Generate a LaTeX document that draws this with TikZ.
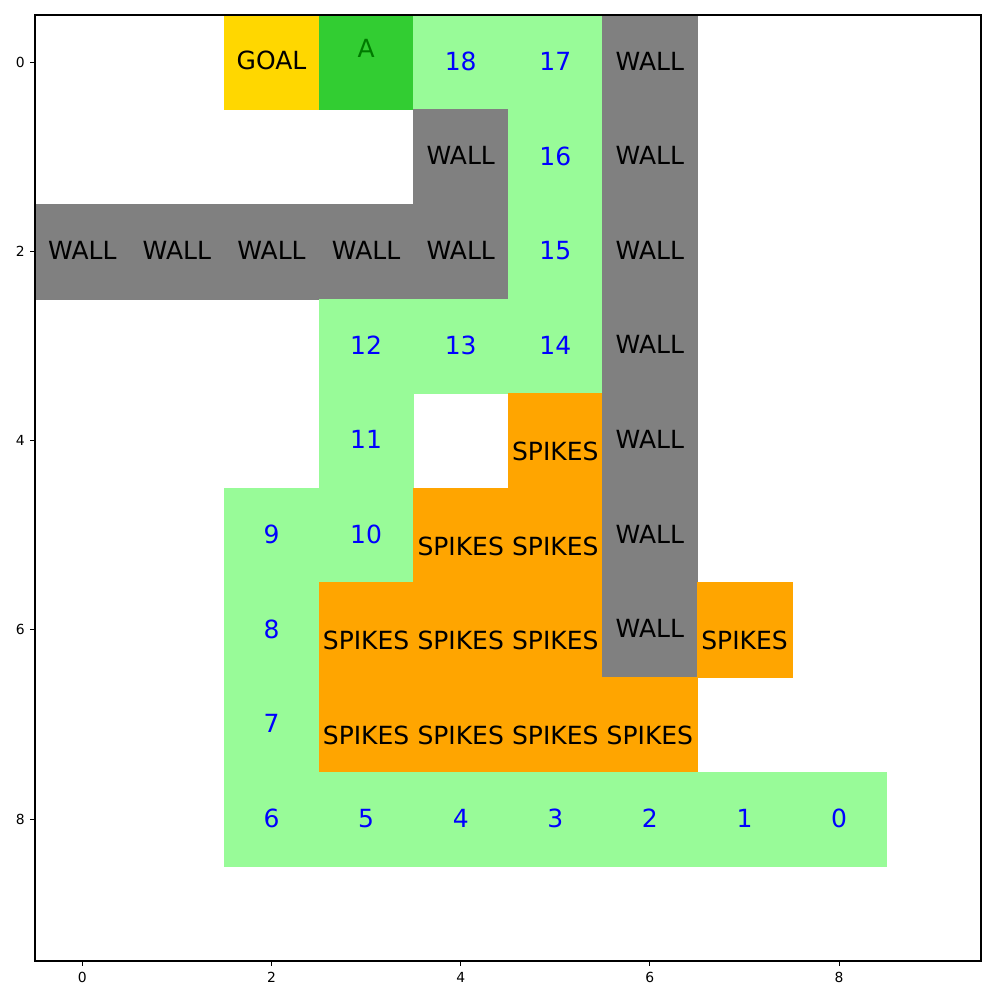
\documentclass[tikz,border=0pt]{standalone}
\usepackage{fontspec}
\setmainfont{DejaVu Sans}
\definecolor{goalc}{HTML}{FFD700}
\definecolor{agentc}{HTML}{32CD32}
\definecolor{pathc}{HTML}{98FB98}
\definecolor{wallc}{HTML}{808080}
\definecolor{spikec}{HTML}{FFA500}
\definecolor{numc}{HTML}{0000FF}
\definecolor{atext}{HTML}{007A00}
\tikzset{
  cell/.style={draw=#1, fill=#1, line width=0.3bp, minimum size=68.1bp, inner sep=0pt, outer sep=0pt},
  lbl/.style={anchor=base, inner sep=0pt, font=\fontsize{18bp}{20bp}\selectfont},
  ticklbl/.style={inner sep=0pt, font=\fontsize{10bp}{12bp}\selectfont},
  tick/.style={line width=0.8bp},
}
\begin{document}
\begin{tikzpicture}[x=0.72bp,y=-0.72bp]
\useasboundingbox (0,0) rectangle (1000,1000);
% cells
\foreach \c/\r/\col in {
  2/0/goalc, 3/0/agentc, 4/0/pathc, 5/0/pathc, 6/0/wallc,
  4/1/wallc, 5/1/pathc, 6/1/wallc,
  0/2/wallc, 1/2/wallc, 2/2/wallc, 3/2/wallc, 4/2/wallc, 5/2/pathc, 6/2/wallc,
  3/3/pathc, 4/3/pathc, 5/3/pathc, 6/3/wallc,
  3/4/pathc, 5/4/spikec, 6/4/wallc,
  2/5/pathc, 3/5/pathc, 4/5/spikec, 5/5/spikec, 6/5/wallc,
  2/6/pathc, 3/6/spikec, 4/6/spikec, 5/6/spikec, 6/6/wallc, 7/6/spikec,
  2/7/pathc, 3/7/spikec, 4/7/spikec, 5/7/spikec, 6/7/spikec,
  2/8/pathc, 3/8/pathc, 4/8/pathc, 5/8/pathc, 6/8/pathc, 7/8/pathc, 8/8/pathc}
  \node[cell=\col] (cell-\c-\r) at ({35+(\c+0.5)*94.6},{15+(\r+0.5)*94.6}) {};
% wall labels
\foreach \c/\r in {6/0, 4/1, 6/1, 0/2, 1/2, 2/2, 3/2, 4/2, 6/2, 6/3, 6/4, 6/5, 6/6}
  \node[lbl] (wall-\c-\r) at ({35+(\c+0.5)*94.6},{15+(\r+0.5)*94.6+7.7}) {WALL};
% spike labels
\foreach \c/\r in {5/4, 4/5, 5/5, 3/6, 4/6, 5/6, 7/6, 3/7, 4/7, 5/7, 6/7}
  \node[lbl] (spk-\c-\r) at ({35+(\c+0.5)*94.6},{15+(\r+0.5)*94.6+19.8}) {SPIKES};
% path numbers
\foreach \c/\r/\n in {8/8/0, 7/8/1, 6/8/2, 5/8/3, 4/8/4, 3/8/5, 2/8/6, 2/7/7, 2/6/8, 2/5/9,
  3/5/10, 3/4/11, 3/3/12, 4/3/13, 5/3/14, 5/2/15, 5/1/16, 5/0/17, 4/0/18}
  \node[lbl, text=numc] (num-\n) at ({35+(\c+0.5)*94.6},{15+(\r+0.5)*94.6+8.2}) {\n};
\node[lbl] (goal) at ({35+2.5*94.6},{15+0.5*94.6+6.7}) {GOAL};
\node[lbl, text=atext] (agent) at ({35+3.5*94.6},{15+0.5*94.6-4.8}) {A};
% axes frame
\node[draw, line width=0.8bp, minimum width=681.1bp, minimum height=681.1bp, inner sep=0pt, outer sep=0pt, anchor=north west] (axes) at (35,15) {};
% ticks
\foreach \k in {0,2,4,6,8} {
  \coordinate (xt-\k) at ({35+(\k+0.5)*94.6},961);
  \coordinate (xtb-\k) at ({35+(\k+0.5)*94.6},966);
  \draw[tick] (xt-\k) -- (xtb-\k);
  \node[ticklbl] (xl-\k) at ({35+(\k+0.5)*94.6},977) {\k};
  \coordinate (yt-\k) at (35,{15+(\k+0.5)*94.6});
  \coordinate (ytb-\k) at (30,{15+(\k+0.5)*94.6});
  \draw[tick] (yt-\k) -- (ytb-\k);
  \node[ticklbl, anchor=east] (yl-\k) at (25,{15+(\k+0.5)*94.6}) {\k};
}
\end{tikzpicture}
\end{document}
